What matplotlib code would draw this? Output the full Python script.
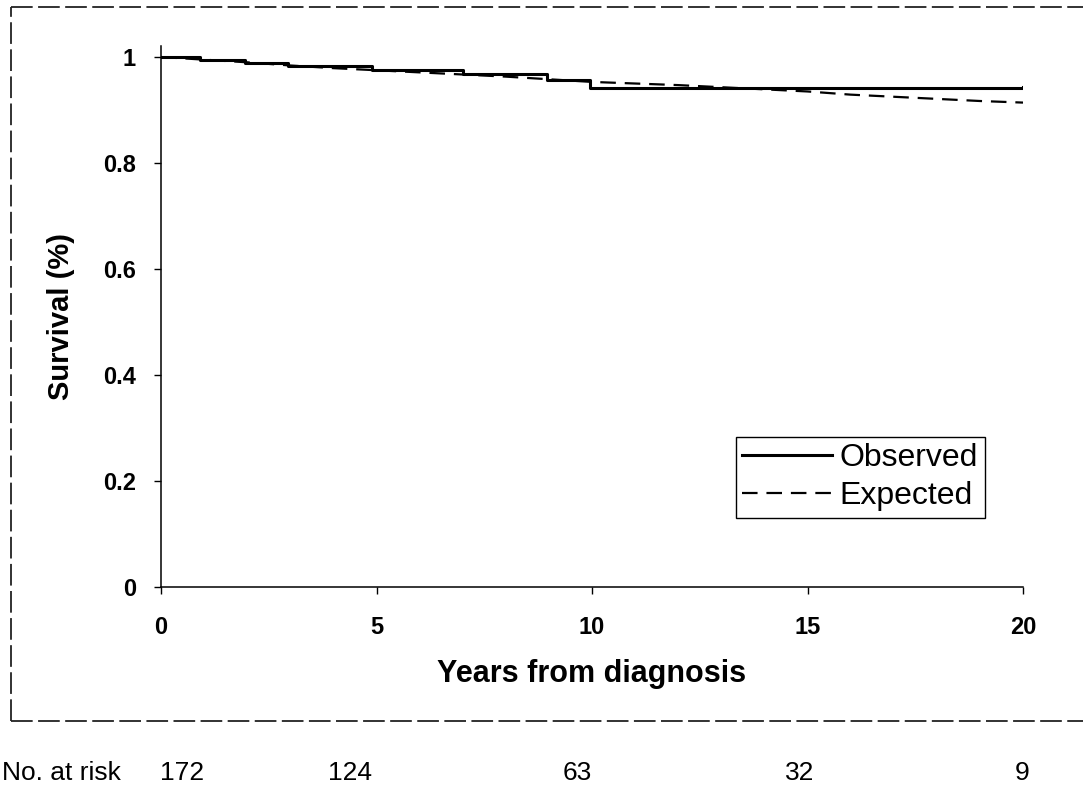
import matplotlib.pyplot as plt
from matplotlib.lines import Line2D
from matplotlib.transforms import blended_transform_factory

plt.rcParams['font.family'] = ['Liberation Sans', 'DejaVu Sans']

# Kaplan-Meier steps (observed) and expected survival
obs_years = [0, 0.9, 1.95, 2.95, 4.9, 7.0, 8.95, 9.95, 20]
obs_surv = [1.0, 0.994, 0.988, 0.983, 0.975, 0.968, 0.957, 0.942, 0.943]

exp_years = [0, 1, 2, 3, 4, 5, 6, 7, 8, 9, 10, 11, 12, 13, 14, 15, 16, 17, 18, 19, 20]
exp_surv = [1.0, 0.995, 0.990, 0.984, 0.979, 0.975, 0.971, 0.967, 0.963, 0.958,
            0.953, 0.950, 0.947, 0.943, 0.939, 0.935, 0.929, 0.925, 0.921, 0.917, 0.914]

risk_years = [0, 5, 10, 15, 20]
at_risk = [172, 124, 63, 32, 9]

fig = plt.figure(figsize=(10.83, 7.88), dpi=100)
ax = fig.add_axes([0.1487, 0.2551, 0.7959, 0.6860])

ax.step(obs_years, obs_surv, where='post', color='black', lw=2.2, label='Observed')
ax.plot(exp_years, exp_surv, color='black', lw=1.6, ls=(0, (7, 4)), label='Expected')

ax.set_xlim(0, 20)
ax.set_ylim(0, 1.02)
ax.set_xticks([0, 5, 10, 15, 20])
ax.set_yticks([0, 0.2, 0.4, 0.6, 0.8, 1.0])
ax.set_yticklabels(['0', '0.2', '0.4', '0.6', '0.8', '1'])
for lab in ax.get_xticklabels() + ax.get_yticklabels():
    lab.set_fontweight('bold')
ax.tick_params(axis='both', direction='out', length=5, width=1, labelsize=17)
ax.tick_params(axis='y', pad=13)
ax.tick_params(axis='x', pad=16)
for side in ['top', 'right']:
    ax.spines[side].set_visible(False)
for side in ['left', 'bottom']:
    ax.spines[side].set_linewidth(1.1)

ax.set_xlabel('Years from diagnosis', fontsize=22, fontweight='bold', labelpad=14)
ax.set_ylabel('Survival (%)', fontsize=21, fontweight='bold', labelpad=20)

leg = ax.legend(loc='lower left', bbox_to_anchor=(0.667, 0.128, 0.29, 0.168),
                fontsize=23, handlelength=2.8, handletextpad=0.25,
                borderpad=0.2, labelspacing=0.25, fancybox=False,
                framealpha=1, borderaxespad=0)
leg.get_frame().set_edgecolor('black')
leg.get_frame().set_linewidth(1.0)

# outer frame around the plot panel
frame_kw = dict(color='#222222', lw=1.3, ls=(0, (12, 3)), transform=fig.transFigure)
fx0, fy0, fy1 = 11 / 1083, 1 - 721 / 788, 1 - 7 / 788
fig.add_artist(Line2D([fx0, fx0], [fy0, fy1], **frame_kw))
fig.add_artist(Line2D([fx0, 1.0], [fy1, fy1], **frame_kw))
fig.add_artist(Line2D([fx0, 1.0], [fy0, fy0], **frame_kw))

# number at risk row below the frame
row_y = 1 - 773 / 788
fig.text(0.002, row_y, 'No. at risk', fontsize=19, va='center', ha='left')
risk_tr = blended_transform_factory(ax.transData, fig.transFigure)
risk_offsets = [1.0, -0.1, 0.0, 0.15, 0.15]
for yr, n, off in zip(risk_years, at_risk, risk_offsets):
    ax.text(yr + off, row_y, str(n), fontsize=19, va='center', ha='right',
            transform=risk_tr, clip_on=False)

fig.savefig('out.png', dpi=100)
